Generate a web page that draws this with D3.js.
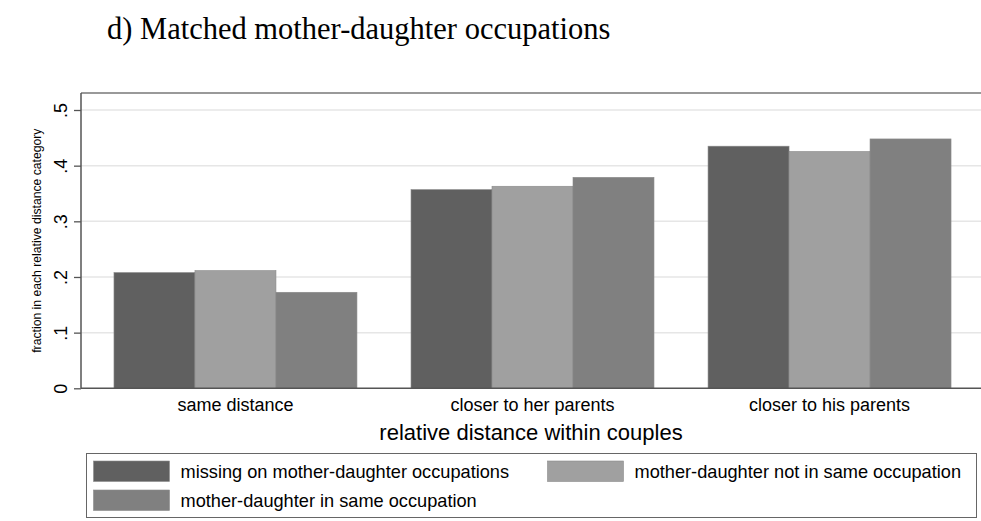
<!DOCTYPE html>
<html>
<head>
<meta charset="utf-8">
<script src="https://cdn.jsdelivr.net/npm/d3@7"></script>
<style>
html,body{margin:0;padding:0;background:#fff;}
svg{display:block;}
</style>
</head>
<body>
<script>
const categories = ["same distance", "closer to her parents", "closer to his parents"];
const seriesNames = ["missing on mother-daughter occupations", "mother-daughter not in same occupation", "mother-daughter in same occupation"];
const missingValues = [0.208, 0.357, 0.435];
const notSameValues = [0.2115, 0.363, 0.4255];
const sameValues = [0.1725, 0.379, 0.448];
const yTicks = [0, 0.1, 0.2, 0.3, 0.4, 0.5];
const yTickLabels = ["0", ".1", ".2", ".3", ".4", ".5"];
const seriesColors = ["#606060", "#a0a0a0", "#808080"];

const W = 981, H = 521;
const svg = d3.select("body").append("svg").attr("width", W).attr("height", H);
const sans = "'Liberation Sans', Arial, Helvetica, sans-serif";

const plot = {left: 81, top: 93, right: 984, bottom: 388.3};
const y = d3.scaleLinear().domain([0, 0.5]).range([plot.bottom, 110]);
const x0 = d3.scaleBand().domain(categories).range([plot.left, plot.right]).paddingInner(0.182).paddingOuter(0.111);
const x1 = d3.scaleBand().domain(seriesNames).range([0, x0.bandwidth()]);

// title
svg.append("text").attr("x", 107).attr("y", 39)
  .attr("font-family", "'Liberation Serif', 'Times New Roman', serif").attr("font-size", 30.5)
  .attr("fill", "#000").text("d) Matched mother-daughter occupations");

// gridlines
svg.append("g").selectAll("line").data(yTicks.slice(1)).join("line")
  .attr("x1", plot.left).attr("x2", W).attr("y1", d => y(d)).attr("y2", d => y(d))
  .attr("stroke", "#e6e6e6").attr("stroke-width", 1.5);

// top border
svg.append("line").attr("x1", plot.left).attr("x2", W).attr("y1", plot.top).attr("y2", plot.top)
  .attr("stroke", "#777").attr("stroke-width", 1.5);

// bars
const data = categories.map((c, i) => ({cat: c, vals: [missingValues[i], notSameValues[i], sameValues[i]]}));
const groups = svg.append("g").selectAll("g").data(data).join("g")
  .attr("transform", d => `translate(${x0(d.cat)},0)`);
groups.selectAll("rect").data(d => d.vals.map((v, j) => ({v, s: seriesNames[j], j}))).join("rect")
  .attr("x", d => x1(d.s)).attr("width", x1.bandwidth())
  .attr("y", d => y(d.v)).attr("height", d => y(0) - y(d.v))
  .attr("fill", d => seriesColors[d.j])
  .attr("stroke", "#8a8a8a").attr("stroke-width", 0.6);

// y axis
const yAxis = d3.axisLeft(y).tickValues(yTicks).tickSize(7).tickFormat((d, i) => yTickLabels[i]);
const gy = svg.append("g").attr("transform", `translate(${plot.left},0)`).call(yAxis);
gy.select(".domain").attr("stroke", "#555").attr("stroke-width", 1.5).attr("d", `M0,${plot.top}V${plot.bottom}`);
gy.selectAll(".tick line").attr("stroke", "#555").attr("stroke-width", 1.3);
gy.selectAll(".tick text")
  .attr("font-family", sans).attr("font-size", 18).attr("fill", "#000")
  .attr("text-anchor", "middle").attr("dy", null).attr("x", null)
  .attr("transform", "translate(-14,0) rotate(-90)")
  .attr("y", 0).attr("dy", "0em");

// x axis
const xAxis = d3.axisBottom(x0).tickSize(0).tickPadding(0);
const gx = svg.append("g").attr("transform", `translate(0,${plot.bottom})`).call(xAxis);
gx.select(".domain").attr("stroke", "#555").attr("stroke-width", 1.5).attr("d", `M${plot.left},0H${W}`);
gx.selectAll(".tick text").attr("font-family", sans).attr("font-size", 18).attr("fill", "#000")
  .attr("y", 23).attr("dy", null);

// axis titles
svg.append("text").attr("x", 531).attr("y", 440).attr("text-anchor", "middle")
  .attr("font-family", sans).attr("font-size", 22).attr("fill", "#000")
  .text("relative distance within couples");
svg.append("text").attr("transform", `translate(41,${(plot.top + plot.bottom) / 2}) rotate(-90)`)
  .attr("text-anchor", "middle").attr("font-family", sans).attr("font-size", 12.2).attr("fill", "#000")
  .text("fraction in each relative distance category");

// legend
const lg = svg.append("g");
lg.append("rect").attr("x", 86.5).attr("y", 453.5).attr("width", 890).attr("height", 64)
  .attr("fill", "#fff").attr("stroke", "#666").attr("stroke-width", 1);
const legendPos = [[93.5, 461], [547.5, 461], [93.5, 490]];
seriesNames.forEach((s, j) => {
  lg.append("rect").attr("x", legendPos[j][0]).attr("y", legendPos[j][1]).attr("width", 76).attr("height", 20.5)
    .attr("fill", seriesColors[j]).attr("stroke", "#8a8a8a").attr("stroke-width", 0.6);
  lg.append("text").attr("x", legendPos[j][0] + 87).attr("y", legendPos[j][1] + 16.5)
    .attr("font-family", sans).attr("font-size", 18.2).attr("fill", "#000").text(s);
});
</script>
</body>
</html>
